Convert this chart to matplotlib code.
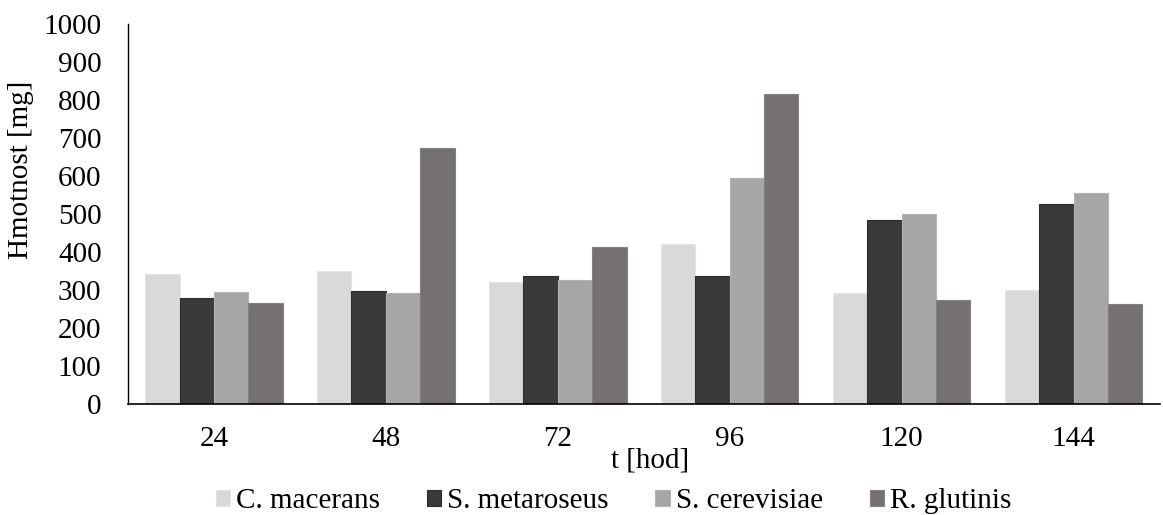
import matplotlib
matplotlib.use("Agg")
import matplotlib.pyplot as plt
import numpy as np

plt.rcParams['font.family'] = ['Liberation Serif', 'DejaVu Serif']

hours = ['24', '48', '72', '96', '120', '144']
species = ['C. macerans', 'S. metaroseus', 'S. cerevisiae', 'R. glutinis']
c_macerans = [343, 350, 321, 420, 293, 299]
s_metaroseus = [280, 298, 338, 337, 483, 526]
s_cerevisiae = [294, 293, 326, 594, 499, 554]
r_glutinis = [267, 673, 412, 815, 274, 263]

colors = ['#d9d9d9', '#3b3938', '#a6a6a6', '#767171']
edges = ['#e6e6e6', '#2e2c2b', '#b3b3b3', '#858080']

fig = plt.figure(figsize=(11.63, 5.15), dpi=100)
ax = fig.add_axes([0.110, 0.2155, 0.887, 0.738])

x = np.arange(len(hours))
w = 0.2
series = [c_macerans, s_metaroseus, s_cerevisiae, r_glutinis]
for i, vals in enumerate(series):
    ax.bar(x + (i - 1.5) * w, vals, w, color=colors[i], edgecolor=edges[i],
           linewidth=0.8, label=species[i])

ax.set_xlim(-0.5, len(hours) - 0.5)
ax.set_ylim(0, 1000)
ax.set_yticks(range(0, 1001, 100))
ax.set_xticks(x)
ax.set_xticklabels(hours)
ax.tick_params(axis='both', length=0, labelsize=21)
ax.tick_params(axis='x', pad=16)
ax.tick_params(axis='y', pad=19)

for s in ['top', 'right']:
    ax.spines[s].set_visible(False)
ax.spines['left'].set_linewidth(1.0)
ax.spines['bottom'].set_linewidth(1.2)

ax.set_ylabel('Hmotnost [mg]', fontsize=21)
ax.yaxis.set_label_coords(-0.091, 0.616)
ax.set_xlabel('t [hod]', fontsize=21)
ax.xaxis.set_label_coords(0.506, -0.114)

fig.legend(loc='lower center', bbox_to_anchor=(0.5275, -0.05), ncol=4,
           frameon=False, fontsize=21, handlelength=0.5, handleheight=0.5,
           handletextpad=0.2, columnspacing=1.6)

fig.savefig('out.png', dpi=100)
